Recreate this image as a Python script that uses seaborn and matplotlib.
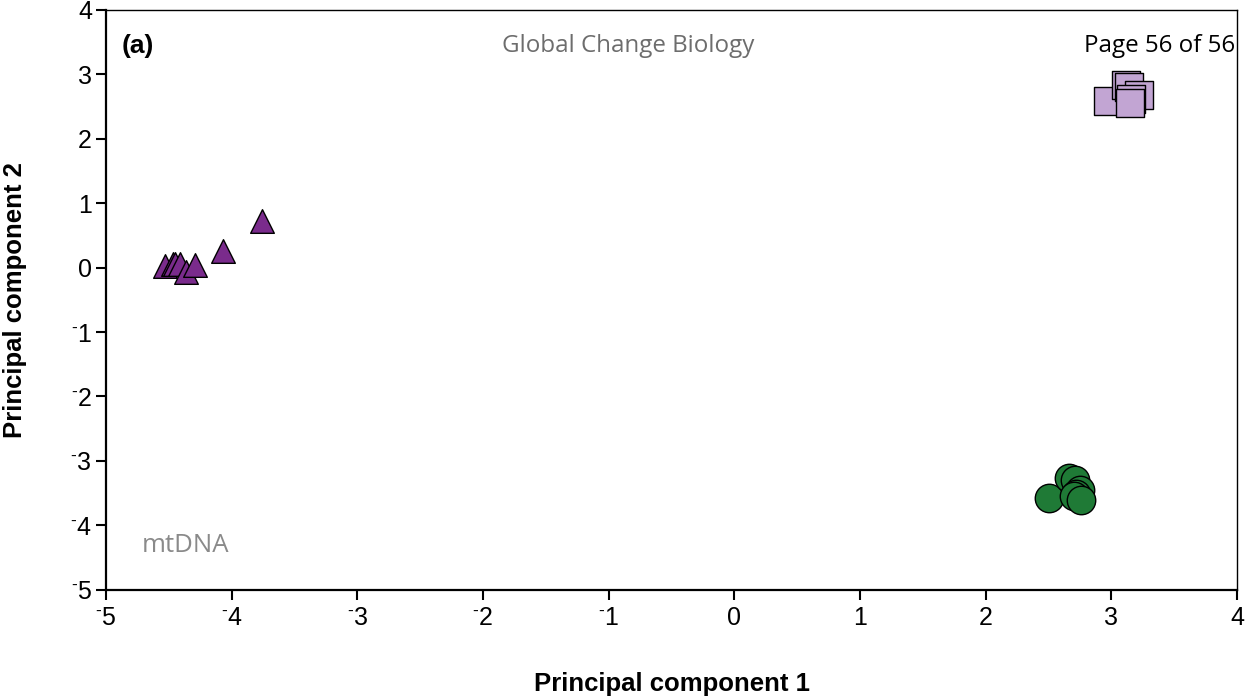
import matplotlib
matplotlib.use("Agg")
import matplotlib.pyplot as plt
import seaborn as sns
import pandas as pd

sns.set_theme(style="white")
plt.rcParams['font.family'] = ['Liberation Sans', 'DejaVu Sans']
plt.rcParams['mathtext.fontset'] = 'custom'
plt.rcParams['mathtext.rm'] = 'Liberation Sans'
plt.rcParams['mathtext.it'] = 'Liberation Sans'
plt.rcParams['mathtext.bf'] = 'Liberation Sans:bold'
plt.rcParams['text.color'] = 'black'
plt.rcParams['axes.labelcolor'] = 'black'
plt.rcParams['xtick.color'] = 'black'
plt.rcParams['ytick.color'] = 'black'

# Data
tri_x = [-4.53, -4.47, -4.45, -4.41, -4.36, -4.29, -4.07, -3.76]
tri_y = [0.03, 0.05, 0.06, 0.05, -0.07, 0.04, 0.25, 0.72]
sq_x = [2.97, 3.12, 3.14, 3.22, 3.16, 3.15]
sq_y = [2.58, 2.84, 2.80, 2.68, 2.62, 2.55]
ci_x = [2.50, 2.66, 2.71, 2.75, 2.72, 2.70, 2.76]
ci_y = [-3.58, -3.27, -3.29, -3.45, -3.52, -3.55, -3.60]
groups = ["A", "B", "C"]
tick_vals = [-5, -4, -3, -2, -1, 0, 1, 2, 3, 4]
tick_labels = [r"$^{\text{-}}$5", r"$^{\text{-}}$4", r"$^{\text{-}}$3", r"$^{\text{-}}$2",
               r"$^{\text{-}}$1", "0", "1", "2", "3", "4"]

df = pd.DataFrame({
    "pc1": tri_x + sq_x + ci_x,
    "pc2": tri_y + sq_y + ci_y,
    "group": [groups[0]] * len(tri_x) + [groups[1]] * len(sq_x) + [groups[2]] * len(ci_x),
})

palette = {"A": "#7a2b8c", "B": "#c2a5d3", "C": "#1f7a36"}
markers = {"A": "^", "B": "s", "C": "o"}
sizes = {"A": 290, "B": 380, "C": 420}

fig = plt.figure(figsize=(12.47, 6.98), dpi=100)
ax = fig.add_axes([0.085, 0.155, 0.907, 0.831])

for g in groups:
    sub = df[df["group"] == g]
    sns.scatterplot(data=sub, x="pc1", y="pc2", color=palette[g], marker=markers[g],
                    s=sizes[g], edgecolor="black", linewidth=1.0, ax=ax, legend=False, zorder=3)

ax.set_xlim(-5, 4)
ax.set_ylim(-5, 4)
ax.set_xticks(tick_vals)
ax.set_xticklabels(tick_labels, fontsize=18, color="black")
ax.set_yticks(tick_vals)
ax.set_yticklabels(tick_labels, fontsize=18, color="black")
ax.tick_params(axis="both", direction="out", length=7, width=1.5, color="black",
               labelcolor="black", bottom=True, left=True)
ax.tick_params(axis="x", pad=5)
ax.tick_params(axis="y", pad=3)
for side in ["left", "bottom"]:
    ax.spines[side].set_linewidth(1.6)
    ax.spines[side].set_color("black")
for side in ["top", "right"]:
    ax.spines[side].set_linewidth(1.0)
    ax.spines[side].set_color("black")

ax.set_xlabel("Principal component 1", fontsize=18.5, fontweight="bold", labelpad=30,
              color="black")
ax.set_ylabel("Principal component 2", fontsize=18.5, fontweight="bold", labelpad=31,
              color="black")

ax.text(0.014, 0.937, "(a)", transform=ax.transAxes, fontsize=19, fontweight="bold",
        color="black", ha="left", va="center")
ax.text(0.462, 0.937, "Global Change Biology", transform=ax.transAxes, fontsize=17.4,
        color="#6d6d6d", ha="center", va="center", family=["Open Sans", "DejaVu Sans"])
ax.text(0.998, 0.937, "Page 56 of 56", transform=ax.transAxes, fontsize=17.4,
        color="black", ha="right", va="center", family=["Open Sans", "DejaVu Sans"])
ax.text(0.032, 0.077, "mtDNA", transform=ax.transAxes, fontsize=18.5,
        color="#8a8a8a", ha="left", va="center", family=["Open Sans", "DejaVu Sans"])

fig.savefig("out.png", dpi=100)
